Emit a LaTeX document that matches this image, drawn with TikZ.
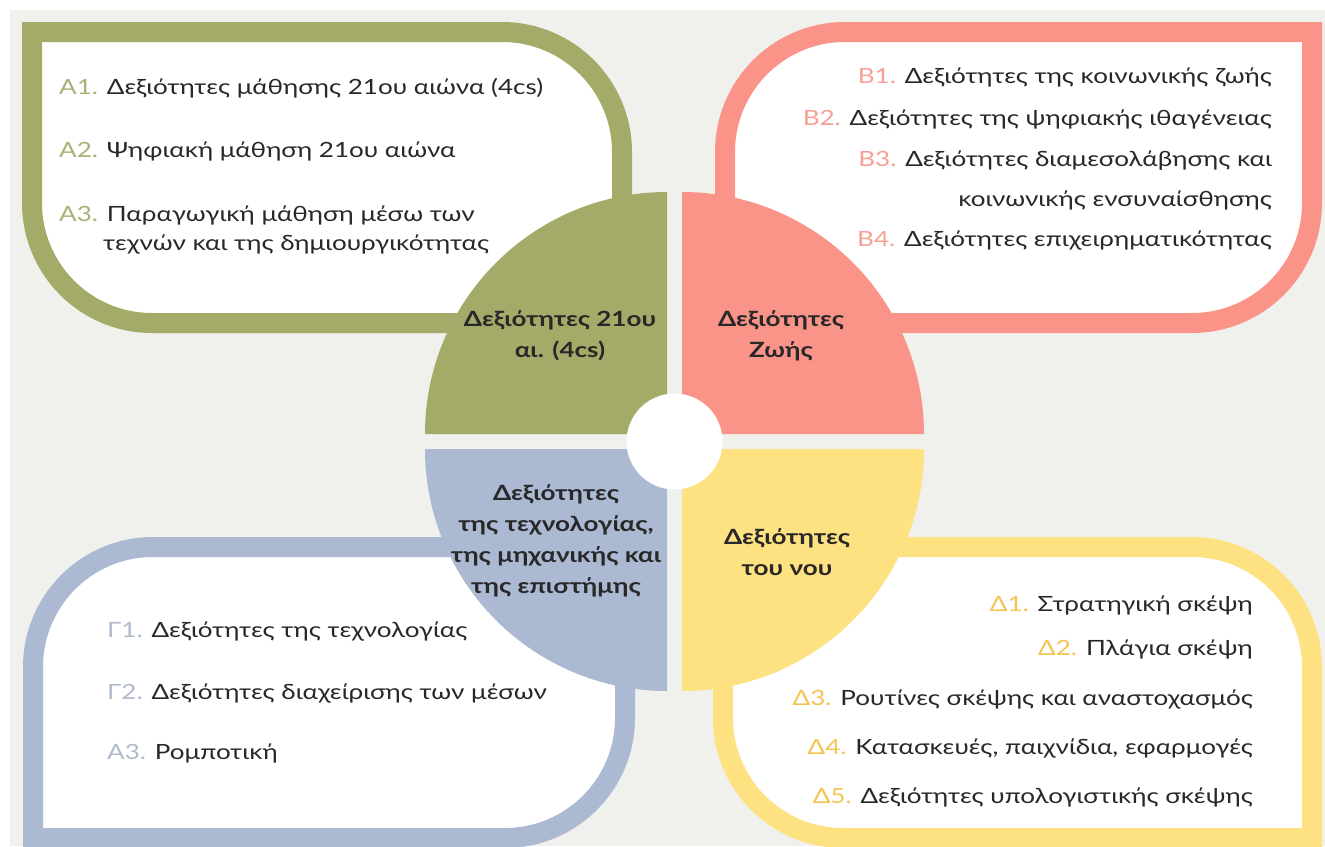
\documentclass[tikz,border=0pt]{standalone}
\usepackage{fontspec}
\setmainfont{Lato}[FakeStretch=1.24]
\definecolor{paper}{RGB}{240,240,237}
\definecolor{olive}{RGB}{164,170,104}
\definecolor{salmon}{RGB}{250,148,137}
\definecolor{slate}{RGB}{171,186,210}
\definecolor{sun}{RGB}{254,225,128}
\definecolor{olivetxt}{RGB}{170,176,120}
\definecolor{salmontxt}{RGB}{246,160,150}
\definecolor{slatetxt}{RGB}{175,187,205}
\definecolor{suntxt}{RGB}{243,196,80}
\definecolor{ink}{RGB}{40,40,40}
\begin{document}
\begin{tikzpicture}[x=1pt,y=-1pt,
  panel/.style={fill=white,line width=20pt},
  item/.style={inner sep=0pt,text=ink,font=\fontsize{21}{25}\selectfont},
  quad/.style={align=center,text=ink,font=\fontsize{21}{31}\selectfont\bfseries}]
  \useasboundingbox (0,0) rectangle (1325,846);
  \fill[white] (0,0) rectangle (1325,846);
  \fill[paper] (10,10) rectangle (1325,846);
  % panels
  \draw[panel,draw=olive] (32,32) -- (502,32) arc[start angle=270,end angle=360,radius=120] -- (622,323) -- (152,323) arc[start angle=90,end angle=180,radius=120] -- cycle;
  \draw[panel,draw=salmon] (725,323) -- (725,152) arc[start angle=180,end angle=270,radius=120] -- (1312,32) -- (1312,203) arc[start angle=0,end angle=90,radius=120] -- cycle;
  \draw[panel,draw=slate] (33,838) -- (33,667) arc[start angle=180,end angle=270,radius=120] -- (625,547) -- (625,718) arc[start angle=0,end angle=90,radius=120] -- cycle;
  \draw[panel,draw=sun] (723,547) -- (1192,547) arc[start angle=270,end angle=360,radius=120] -- (1312,838) -- (843,838) arc[start angle=90,end angle=180,radius=120] -- cycle;
  % quarters
  \fill[olive] (667,434) -- ++(-242,0) arc[start angle=180,end angle=270,radius=242] -- cycle;
  \fill[salmon] (682,434) -- ++(0,-242) arc[start angle=270,end angle=360,radius=242] -- cycle;
  \fill[slate] (667,449) -- ++(0,242) arc[start angle=90,end angle=180,radius=242] -- cycle;
  \fill[sun] (682,449) -- ++(242,0) arc[start angle=0,end angle=90,radius=242] -- cycle;
  \fill[white] (674.5,441.5) circle[radius=48];
  % quarter labels
  \node[quad] (skills21) at (560,336) {Δεξιότητες 21ου\\αι. (4cs)};
  \node[quad] (life) at (781,336) {Δεξιότητες\\Ζωής};
  \node[quad] (tech) at (556,541) {Δεξιότητες\\της τεχνολογίας,\\της μηχανικής και\\της επιστήμης};
  \node[quad] (mind) at (787,552) {Δεξιότητες\\του νου};
  % olive items
  \node[item,anchor=base west] (a1) at (59,94) {{\color{olivetxt}A1.} Δεξιότητες μάθησης 21ου αιώνα (4cs)};
  \node[item,anchor=base west] (a2) at (59,157) {{\color{olivetxt}A2.} Ψηφιακή μάθηση 21ου αιώνα};
  \node[item,anchor=base west] (a3) at (59,221) {{\color{olivetxt}A3.} Παραγωγική μάθηση μέσω των};
  \node[item,anchor=base west] (a3b) at (103,250) {τεχνών και της δημιουργικότητας};
  % salmon items
  \node[item,anchor=base east] (b1) at (1272,83) {{\color{salmontxt}B1.} Δεξιότητες της κοινωνικής ζωής};
  \node[item,anchor=base east] (b2) at (1272,125) {{\color{salmontxt}B2.} Δεξιότητες της ψηφιακής ιθαγένειας};
  \node[item,anchor=base east] (b3) at (1272,166) {{\color{salmontxt}B3.} Δεξιότητες διαμεσολάβησης και};
  \node[item,anchor=base east] (b3b) at (1272,206) {κοινωνικής ενσυναίσθησης};
  \node[item,anchor=base east] (b4) at (1272,246) {{\color{salmontxt}B4.} Δεξιότητες επιχειρηματικότητας};
  % slate items
  \node[item,anchor=base west] (g1) at (107,637) {{\color{slatetxt}Γ1.} Δεξιότητες της τεχνολογίας};
  \node[item,anchor=base west] (g2) at (107,699) {{\color{slatetxt}Γ2.} Δεξιότητες διαχείρισης των μέσων};
  \node[item,anchor=base west] (g3) at (107,759) {{\color{slatetxt}A3.} Ρομποτική};
  % sun items
  \node[item,anchor=base east] (d1) at (1253,611) {{\color{suntxt}Δ1.} Στρατηγική σκέψη};
  \node[item,anchor=base east] (d2) at (1253,655) {{\color{suntxt}Δ2.} Πλάγια σκέψη};
  \node[item,anchor=base east] (d3) at (1253,705) {{\color{suntxt}Δ3.} Ρουτίνες σκέψης και αναστοχασμός};
  \node[item,anchor=base east] (d4) at (1253,754) {{\color{suntxt}Δ4.} Κατασκευές, παιχνίδια, εφαρμογές};
  \node[item,anchor=base east] (d5) at (1253,803) {{\color{suntxt}Δ5.} Δεξιότητες υπολογιστικής σκέψης};
\end{tikzpicture}
\end{document}
